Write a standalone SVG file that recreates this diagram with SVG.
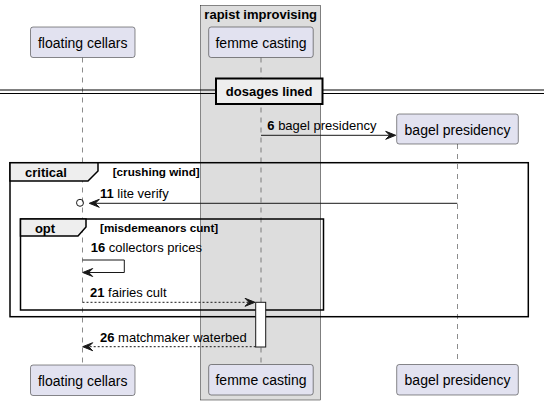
<svg xmlns="http://www.w3.org/2000/svg" width="544" height="405" viewBox="0 0 544 405">
<style>
text{font-family:"Liberation Sans",Arial,sans-serif;fill:#000}
.pt{font-size:14px}
.msg{font-size:13px}
.b{font-weight:bold}
.grd{font-size:11.7px;font-weight:bold}
.part{fill:#E2E2F0;stroke:#181818;stroke-width:0.5}
.life{stroke:#181818;stroke-width:0.5;stroke-dasharray:5,5;fill:none}
.ln{stroke:#181818;stroke-width:1;fill:none}
.dash{stroke:#181818;stroke-width:1;stroke-dasharray:2,2;fill:none}
.head{fill:#181818;stroke:#181818;stroke-width:1}
.frame{fill:none;stroke:#000;stroke-width:1.5}
.tab{fill:#EEEEEE;stroke:#000;stroke-width:1.5}
</style>
<g id="group-rapist-improvising">
<rect x="200.7" y="5.5" width="120" height="394.5" fill="#DDDDDD" stroke="#181818" stroke-width="0.5"/>
<text class="msg b" x="260.7" y="18.5" text-anchor="middle">rapist improvising</text>
</g>
<g id="lifelines">
<line class="life" x1="82.5" y1="57.5" x2="82.5" y2="365"/>
<line class="life" x1="261" y1="57.5" x2="261" y2="364"/>
<line class="life" x1="457.5" y1="144" x2="457.5" y2="364"/>
</g>
<g id="node-floating-cellars">
<rect class="part" x="30.5" y="27" width="104.5" height="30.5" rx="2.5"/>
<text class="pt" x="82.7" y="47.7" text-anchor="middle">floating cellars</text>
<rect class="part" x="30.5" y="365" width="104.5" height="30.5" rx="2.5"/>
<text class="pt" x="82.7" y="385.5" text-anchor="middle">floating cellars</text>
</g>
<g id="node-femme-casting">
<rect class="part" x="208.7" y="27" width="104.5" height="30.5" rx="2.5"/>
<text class="pt" x="261" y="47.7" text-anchor="middle">femme casting</text>
<rect class="part" x="208.7" y="364.5" width="104.5" height="30.5" rx="2.5"/>
<text class="pt" x="261" y="385" text-anchor="middle">femme casting</text>
</g>
<g id="node-bagel-presidency">
<rect class="part" x="396.7" y="114" width="121.6" height="30" rx="2.5"/>
<text class="pt" x="457.5" y="134.5" text-anchor="middle">bagel presidency</text>
<rect class="part" x="396.7" y="364.5" width="121.6" height="30.5" rx="2.5"/>
<text class="pt" x="457.5" y="385" text-anchor="middle">bagel presidency</text>
</g>
<g id="divider-dosages-lined">
<line x1="0" y1="90" x2="544" y2="90" stroke="#000" stroke-width="1"/>
<line x1="0" y1="93.5" x2="544" y2="93.5" stroke="#000" stroke-width="1"/>
<rect x="216" y="78.5" width="106.5" height="25.5" fill="#EEEEEE" stroke="#000" stroke-width="2"/>
<text class="msg b" x="269.2" y="95.5" text-anchor="middle">dosages lined</text>
</g>
<g id="frame-critical">
<rect class="frame" x="10" y="162.7" width="518.3" height="154"/>
<path class="tab" d="M10,162.7 L98,162.7 L98,171 L88,181 L10,181 Z"/>
<text class="msg b" x="25" y="176.5">critical</text>
<text class="grd" x="112.7" y="176">[crushing wind]</text>
</g>
<g id="frame-opt">
<rect class="frame" x="20.5" y="219" width="303" height="91"/>
<path class="tab" d="M20.5,219 L86,219 L86,227 L78,236 L20.5,236 Z"/>
<text class="msg b" x="45" y="232.5" text-anchor="middle">opt</text>
<text class="grd" x="100" y="231.5">[misdemeanors cunt]</text>
</g>
<g id="activation-femme">
<rect x="255.7" y="302.3" width="10" height="44.7" fill="#FFFFFF" stroke="#181818" stroke-width="1"/>
</g>
<g id="connectors">
<g id="msg-6">
<line class="ln" x1="261" y1="135.3" x2="394" y2="135.3"/>
<polygon class="head" points="385.7,131.3 395.7,135.3 385.7,139.3 389.7,135.3"/>
<text class="msg" x="267.3" y="130"><tspan class="b">6</tspan> bagel presidency</text>
</g>
<g id="msg-11">
<line class="ln" x1="457.3" y1="203.3" x2="91" y2="203.3"/>
<polygon class="head" points="99.3,199.3 89.3,203.3 99.3,207.3 95.3,203.3"/>
<circle cx="80" cy="202.8" r="3.5" fill="none" stroke="#181818" stroke-width="1"/>
<text class="msg" x="100" y="198.3"><tspan class="b">11</tspan> lite verify</text>
</g>
<g id="msg-16">
<polyline class="ln" points="82.5,260 124.3,260 124.3,272.5 84,272.5"/>
<polygon class="head" points="92.7,268.5 82.7,272.5 92.7,276.5 88.7,272.5"/>
<text class="msg" x="90.7" y="252.3"><tspan class="b">16</tspan> collectors prices</text>
</g>
<g id="msg-21">
<line class="dash" x1="82.5" y1="302.3" x2="253" y2="302.3"/>
<polygon class="head" points="245,298.3 255,302.3 245,306.3 249,302.3"/>
<text class="msg" x="90" y="297.3"><tspan class="b">21</tspan> fairies cult</text>
</g>
<g id="msg-26">
<line class="dash" x1="255.7" y1="346.7" x2="84.5" y2="346.7"/>
<polygon class="head" points="92.7,342.7 82.7,346.7 92.7,350.7 88.7,346.7"/>
<text class="msg" x="100" y="341.7"><tspan class="b">26</tspan> matchmaker waterbed</text>
</g>
</g>
</svg>
